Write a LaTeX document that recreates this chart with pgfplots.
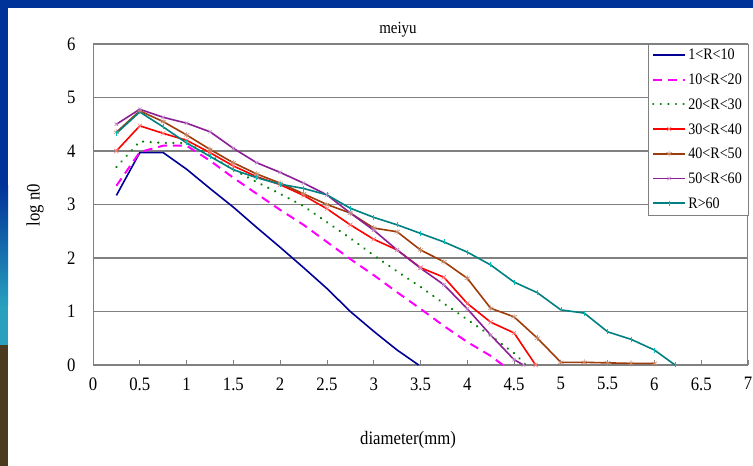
\documentclass[border=0pt]{standalone}
\usepackage{fontspec}
\setmainfont{Liberation Serif}[FakeStretch=0.88]
\usepackage{pgfplots}
\pgfplotsset{compat=1.18}
\definecolor{slideblue}{RGB}{0,51,153}
\definecolor{slideteal}{RGB}{40,160,190}
\definecolor{slidebrown}{RGB}{74,58,30}
\definecolor{cBlue}{RGB}{0,0,150}
\definecolor{cMag}{RGB}{255,0,255}
\definecolor{cGreen}{RGB}{0,128,0}
\definecolor{cRed}{RGB}{255,0,0}
\definecolor{cBrown}{RGB}{160,60,10}
\definecolor{cPurple}{RGB}{140,30,150}
\definecolor{cTeal}{RGB}{0,128,128}
\begin{document}
\begin{tikzpicture}[x=1pt,y=1pt]
\useasboundingbox (0,0) rectangle (753,466);
\fill[white] (0,0) rectangle (753,466);
\fill[slideblue] (0,458) rectangle (753,466);
\fill[slideblue] (0,280) rectangle (8,466);
\shade[top color=slideblue, bottom color=slideteal] (0,160) rectangle (8,280);
\fill[slideteal] (0,121) rectangle (8,160);
\fill[slidebrown] (0,0) rectangle (8,121);
\begin{axis}[
  at={(93pt,101pt)}, anchor=south west,
  scale only axis, width=655pt, height=321pt,
  xmin=0, xmax=7, ymin=0, ymax=6,
  xtick={0,0.5,1,1.5,2,2.5,3,3.5,4,4.5,5,5.5,6,6.5,7},
  xticklabels={0,0.5,1,1.5,2,2.5,3,3.5,4,4.5,5,5.5,6,6.5,7},
  ytick={0,1,2,3,4,5,6},
  yticklabels={0,1,2,3,4,5,6},
  /pgf/number format/assume math mode=true,
  xtick pos=bottom, ytick pos=left,
  tick align=inside,
  major tick length=5pt,
  xtick style={draw=gray, line width=0.8pt},
  ytick style={draw=none},
  ymajorgrids,
  grid style={draw=gray, line width=1.2pt},
  axis line style={draw=gray, line width=1pt},
  ticklabel style={font=\fontsize{19}{21}\selectfont},
  xticklabel style={yshift=-9pt},
  yticklabel style={xshift=-14pt},
  legend style={at={(1,1)}, anchor=north east, draw=gray, fill=white,
    font=\fontsize{16}{17}\selectfont, row sep=8.6pt, inner xsep=4pt, inner ysep=3pt,
    cells={anchor=west}},
  legend image code/.code={\draw[mark repeat=2,mark phase=2,#1] plot coordinates {(0pt,0.5pt) (16pt,0.5pt) (32pt,0.5pt)};},
  clip=false,
]
\addplot[cBlue, line width=1.6pt] coordinates {(0.25,3.17)(0.5,3.97)(0.75,3.97)(1.0,3.66)(1.25,3.3)(1.5,2.95)(1.75,2.57)(2.0,2.2)(2.25,1.82)(2.5,1.43)(2.75,1.0)(3.0,0.63)(3.25,0.28)(3.48,0)};
\addlegendentry{1<R<10}
\addplot[cMag, line width=2pt, dash pattern=on 9pt off 6pt] coordinates {(0.25,3.35)(0.5,3.98)(0.75,4.1)(1.0,4.1)(1.25,3.82)(1.5,3.5)(1.75,3.2)(2.0,2.9)(2.25,2.62)(2.5,2.3)(2.75,1.98)(3.0,1.68)(3.25,1.36)(3.5,1.05)(3.75,0.73)(4.0,0.43)(4.25,0.17)(4.38,0)};
\addlegendentry{10<R<20}
\addplot[cGreen, line width=2.4pt, dash pattern=on 0.1pt off 7.5pt, line cap=round] coordinates {(0.25,3.7)(0.5,4.18)(0.75,4.15)(1.0,4.15)(1.25,3.92)(1.5,3.65)(1.75,3.42)(2.0,3.2)(2.25,2.97)(2.5,2.67)(2.75,2.37)(3.0,2.05)(3.25,1.75)(3.5,1.46)(3.75,1.15)(4.0,0.85)(4.25,0.55)(4.5,0.22)(4.63,0)};
\addlegendentry{20<R<30}
\addplot[cRed, line width=1.6pt, mark=x, mark size=3pt, mark options={solid, draw=cRed!50, line width=0.6pt}] coordinates {(0.25,4.0)(0.5,4.47)(0.75,4.33)(1.0,4.2)(1.25,3.97)(1.5,3.72)(1.75,3.52)(2.0,3.37)(2.25,3.17)(2.5,2.92)(2.75,2.62)(3.0,2.35)(3.25,2.15)(3.5,1.82)(3.75,1.64)(4.0,1.15)(4.25,0.8)(4.5,0.6)(4.73,0)};
\addlegendentry{30<R<40}
\addplot[cBrown, line width=1.6pt, mark=asterisk, mark size=3pt, mark options={solid, draw=cBrown!60, line width=0.6pt}] coordinates {(0.25,4.35)(0.5,4.75)(0.75,4.55)(1.0,4.3)(1.25,4.03)(1.5,3.78)(1.75,3.57)(2.0,3.4)(2.25,3.2)(2.5,3.0)(2.75,2.84)(3.0,2.56)(3.25,2.49)(3.5,2.15)(3.75,1.93)(4.0,1.62)(4.25,1.06)(4.5,0.9)(4.75,0.5)(5.0,0.05)(5.25,0.05)(5.5,0.04)(5.75,0.03)(6.0,0.03)};
\addlegendentry{40<R<50}
\addplot[cPurple, line width=1.6pt, mark=x, mark size=2.5pt, mark options={solid, draw=cPurple!50, line width=0.6pt}] coordinates {(0.25,4.5)(0.5,4.78)(0.75,4.63)(1.0,4.52)(1.25,4.36)(1.5,4.05)(1.75,3.78)(2.0,3.6)(2.25,3.4)(2.5,3.18)(2.75,2.84)(3.0,2.52)(3.25,2.15)(3.5,1.81)(3.75,1.5)(4.0,1.05)(4.25,0.56)(4.5,0.1)(4.6,0)};
\addlegendentry{50<R<60}
\addplot[cTeal, line width=1.6pt, mark=|, mark size=2.5pt, mark options={solid, draw=cTeal!50!cyan, line width=0.6pt}] coordinates {(0.25,4.33)(0.5,4.73)(0.75,4.45)(1.0,4.15)(1.25,3.9)(1.5,3.65)(1.75,3.5)(2.0,3.38)(2.25,3.3)(2.5,3.18)(2.75,2.93)(3.0,2.76)(3.25,2.62)(3.5,2.46)(3.75,2.3)(4.0,2.11)(4.25,1.87)(4.5,1.55)(4.75,1.35)(5.0,1.03)(5.25,0.97)(5.5,0.62)(5.75,0.48)(6.0,0.28)(6.22,0)};
\addlegendentry{R>60}
\end{axis}
\node[font=\fontsize{17}{19}\selectfont] at (398,436) {meiyu};
\node[font=\fontsize{19}{21}\selectfont] at (408,26) {diameter(mm)};
\node[font=\fontsize{19}{21}\selectfont, rotate=90] at (35,261) {log n0};
\end{tikzpicture}
\end{document}
